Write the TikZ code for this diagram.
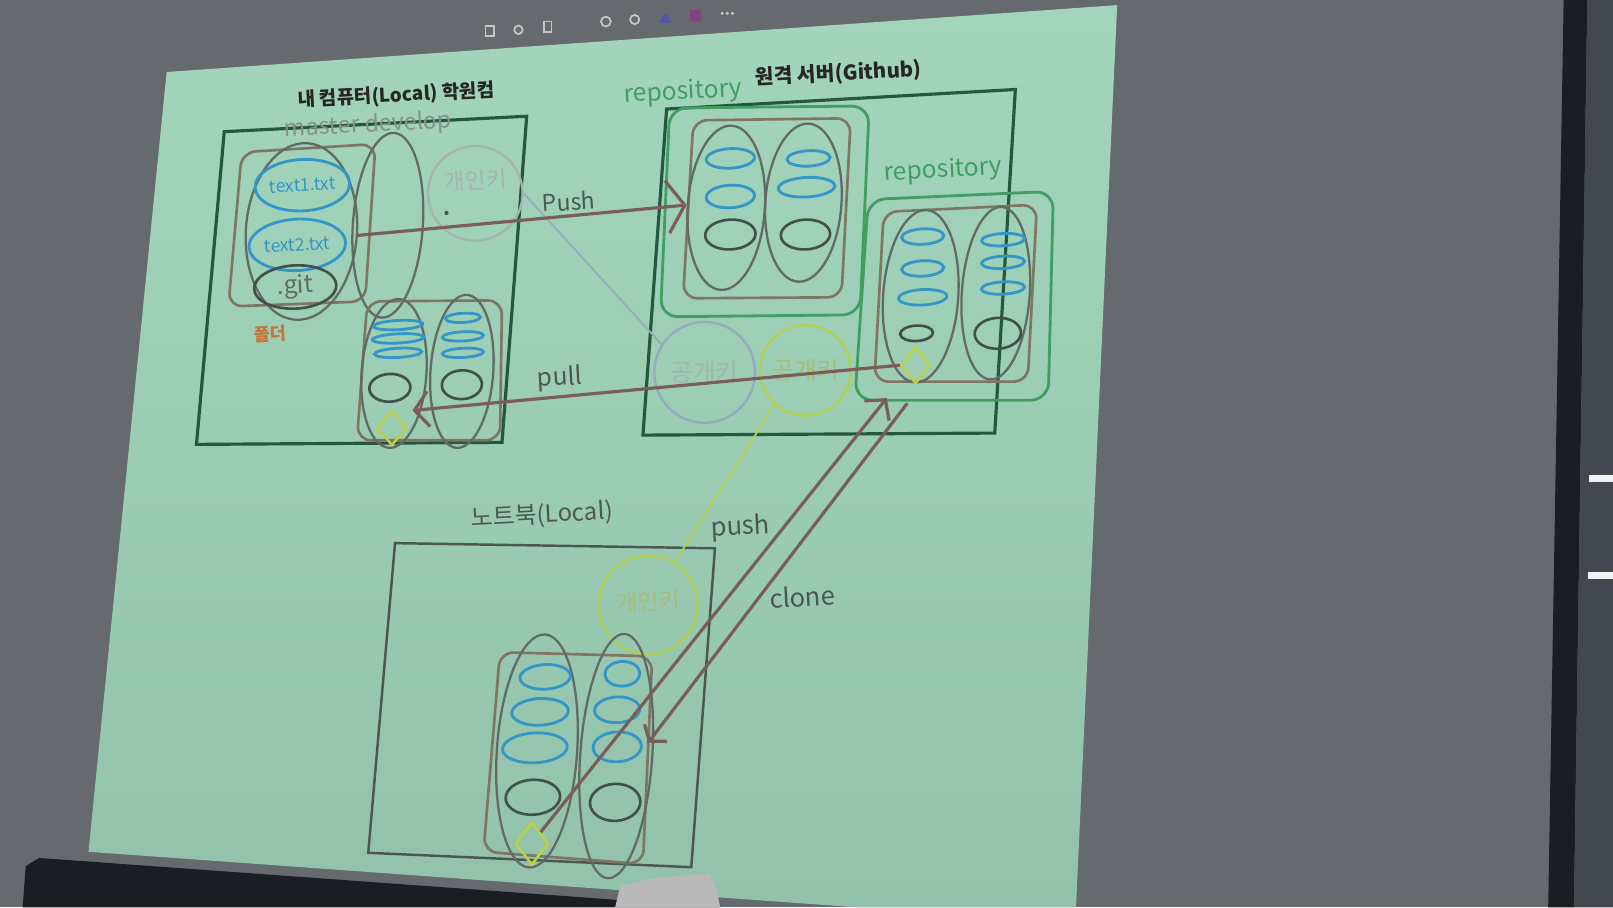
\documentclass[tikz,border=0pt]{standalone}
\usepackage{fontspec}
\setmainfont{Noto Sans CJK KR}
\usetikzlibrary{arrows.meta, positioning, shapes.geometric}
\usepackage{xcolor}
\definecolor{wallgray}{RGB}{102,105,110}
\definecolor{panelgray}{RGB}{66,72,77}
\definecolor{bezel}{RGB}{26,29,33}
\definecolor{slidetop}{RGB}{163,213,188}
\definecolor{slidebot}{RGB}{146,194,171}
\definecolor{framegreen}{RGB}{36,88,62}
\definecolor{repogreen}{RGB}{66,158,96}
\definecolor{brownline}{RGB}{128,116,98}
\definecolor{grayline}{RGB}{98,106,102}
\definecolor{darkline}{RGB}{66,80,76}
\definecolor{fileblue}{RGB}{52,150,198}
\definecolor{headyellow}{RGB}{190,208,72}
\definecolor{keygray}{RGB}{165,180,176}
\definecolor{keyblue}{RGB}{150,172,190}
\definecolor{keylime}{RGB}{178,208,80}
\definecolor{keylimetxt}{RGB}{168,190,120}
\definecolor{arrowred}{RGB}{122,92,88}
\definecolor{folderorange}{RGB}{196,118,58}
\definecolor{labelgray}{RGB}{76,86,82}

\newcommand{\pxl}{0.2927pt}
\newcommand{\setfs}[1]{\fontsize{#1}{#1}\selectfont}

\tikzset{
  frame/.style={draw=framegreen, line width=0.9pt},
  repobox/.style={draw=repogreen, line width=0.8pt, rounded corners=5pt},
  workbox/.style={draw=brownline, line width=0.75pt, rounded corners=4pt},
  sz/.style 2 args={minimum width=#1*\pxl, minimum height=#2*\pxl},
  branch/.style={ellipse, draw=grayline, line width=0.65pt, inner sep=0pt, rotate=-4},
  blob/.style={ellipse, draw=fileblue, line width=0.8pt, inner sep=0pt, rotate=3},
  commit/.style={ellipse, draw=darkline, line width=0.75pt, inner sep=0pt, rotate=3},
  headmark/.style={diamond, draw=headyellow, line width=0.7pt, inner sep=0pt},
  keyring/.style={circle, line width=0.65pt, inner sep=0pt},
  flow/.style={draw=arrowred, line width=0.9pt},
  lbl/.style={inner sep=0pt, rotate=3, text=labelgray},
}

\begin{document}
\begin{tikzpicture}[x=0.2927pt, y=-0.2927pt]
  \useasboundingbox (0,0) rectangle (1568,882);
  % room, screen edge and slide
  \fill[wallgray] (0,0) rectangle (1568,882);
  \fill[bezel] (1520,0) -- (1543,0) -- (1530,882) -- (1505,882) -- cycle;
  \fill[panelgray] (1543,0) -- (1568,0) -- (1568,882) -- (1530,882) -- cycle;
  \fill[white!90!gray] (1545,462) rectangle (1568,469);
  \fill[white!90!gray] (1544,556) rectangle (1568,563);
  \shade[top color=slidetop, bottom color=slidebot] (162,70) -- (1086,5) -- (1046,882) -- (833,882) -- (86,828) -- cycle;
  \fill[bezel] (22,882) -- (25,842) -- (38,834) -- (700,882) -- cycle;
  \fill[gray!55] (598,882) -- (603,861) -- (640,853) -- (690,849) -- (697,866) -- (700,882) -- cycle;
  % toolbar
  \draw[gray!45, line width=0.5pt] (472,25) rectangle (480,35);
  \draw[gray!45, line width=0.5pt] (504,29) circle (1.2pt);
  \draw[gray!45, line width=0.5pt] (529,21) rectangle (536,31);
  \draw[gray!45, line width=0.5pt] (589,21) circle (1.4pt);
  \draw[gray!45, line width=0.5pt] (617,19) circle (1.3pt);
  \fill[blue!35!gray] (641,22) -- (647,12) -- (653,22) -- cycle;
  \fill[violet!45!gray] (671,10) rectangle (681,20);
  \foreach \dx in {702,707,712} \fill[gray!45] (\dx,13) circle (0.5pt);

  % my computer
  \draw[frame] (218,128) -- (512,113) -- (488,430) -- (191,432) -- cycle;
  \node[lbl, font=\bfseries\setfs{5.4pt}, text=black!85] (pcTitle) at (385,93) {내 컴퓨터(Local) 학원컴};
  \node[lbl, font=\setfs{6.6pt}, text=grayline!75] (branchNames) at (358,122) {master develop};
  \draw[workbox] (235,148) -- (365,140) -- (355,293) -- (222,298) -- cycle;
  \node[branch, sz={108}{172}] (master) at (293,225) {};
  \node[branch, sz={68}{180}] (develop) at (377,219) {};
  \node[blob, sz={92}{50}, text=fileblue, font=\setfs{5pt}] (txtA) at (294,180) {text1.txt};
  \node[blob, sz={94}{50}, text=fileblue, font=\setfs{5pt}] (txtB) at (289,238) {text2.txt};
  \node[commit, sz={80}{42}, text=grayline, font=\setfs{6.9pt}] (gitDir) at (287,279) {.git};
  \node[lbl, font=\bfseries\setfs{5pt}, text=folderorange] (folderTag) at (263,325) {폴더};
  \node[keyring, draw=keygray, minimum size=92*\pxl] (privA) at (462,188) {};
  \node[lbl, font=\setfs{6.5pt}, text=keygray] (privAtxt) at (462,175) {개인키};
  \fill[labelgray] (434,207) circle (0.6pt);
  \draw[workbox] (357,293) -- (488,292) -- (486,428) -- (347,428) -- cycle;
  \node[branch, sz={63}{145}] (pcMaster) at (383,363) {};
  \node[branch, sz={61}{149}] (pcDevelop) at (449,361) {};
  \foreach \yy/\ww in {316/48,329/50,343/46}
    \node[blob, sz={\ww}{9}] (pcA\yy) at (387,\yy) {};
  \foreach \yy/\ww in {309/34,327/40,343/40}
    \node[blob, sz={\ww}{9}] (pcB\yy) at (450,\yy) {};
  \node[commit, sz={40}{27}] (pcA) at (379,377) {};
  \node[commit, sz={39}{28}] (pcB) at (449,374) {};
  \node[headmark, sz={29}{34}] (headA) at (381,416) {};

  % github
  \draw[frame] (648,106) -- (987,87) -- (967,421) -- (625,423) -- cycle;
  \node[lbl, font=\bfseries\setfs{5.8pt}, text=black!85] (hubTitle) at (815,72) {원격 서버(Github)};
  \node[lbl, font=\setfs{7pt}, text=repogreen] (repoTagA) at (664,90) {repository};
  \node[lbl, font=\setfs{7pt}, text=repogreen] (repoTagB) at (917,166) {repository};
  \draw[repobox] (651,105) -- (845,103) -- (836,306) -- (642,308) -- cycle;
  \draw[workbox] (674,117) -- (827,115) -- (818,289) -- (664,290) -- cycle;
  \node[branch, sz={75}{160}] (hubA) at (706,202) {};
  \node[branch, sz={74}{154}] (hubB) at (781,197) {};
  \node[blob, sz={47}{19}] (hubA1) at (710,154) {};
  \node[blob, sz={47}{22}] (hubA2) at (710,191) {};
  \node[commit, sz={49}{29}] (hubA3) at (710,228) {};
  \node[blob, sz={42}{15}] (hubB1) at (786,154) {};
  \node[blob, sz={55}{19}] (hubB2) at (784,182) {};
  \node[commit, sz={48}{29}] (hubB3) at (783,228) {};
  \draw[repobox] (844,194) -- (1024,186) -- (1019,389) -- (831,389) -- cycle;
  \draw[workbox] (859,206) -- (1008,199) -- (999,371) -- (850,371) -- cycle;
  \node[branch, sz={73}{168}] (forkA) at (895,288) {};
  \node[branch, sz={66}{168}] (forkB) at (968,285) {};
  \foreach \yy/\ww in {230/41,261/41,289/47}
    \node[blob, sz={\ww}{15}] (forkA\yy) at (897,\yy) {};
  \foreach \yy in {233,255,280}
    \node[blob, sz={42}{12}] (forkB\yy) at (975,\yy) {};
  \node[commit, sz={32}{15}] (forkAc) at (891,324) {};
  \node[commit, sz={45}{30}] (forkBc) at (970,324) {};
  \node[headmark, sz={28}{36}] (headB) at (890,355) {};
  \node[keyring, draw=keyblue, minimum size=98*\pxl, text=keygray, font=\setfs{7pt}] (pubA) at (685,362) {공개키};
  \node[keyring, draw=keylime, minimum size=88*\pxl, text=keylimetxt, font=\setfs{7pt}] (pubB) at (783,360) {공개키};

  % notebook
  \node[lbl, font=\setfs{6.8pt}] (nbTitle) at (527,501) {노트북(Local)};
  \draw[draw=labelgray, line width=0.7pt] (384,528) -- (695,533) -- (672,843) -- (358,829) -- cycle;
  \node[keyring, draw=keylime, minimum size=96*\pxl] (privB) at (630,588) {};
  \node[lbl, font=\setfs{6.5pt}, text=keylimetxt] (privBtxt) at (630,585) {개인키};
  \draw[workbox] (486,634) -- (634,638) -- (625,840) -- (470,828) -- cycle;
  \node[branch, sz={78}{227}] (nbA) at (522,730) {};
  \node[branch, sz={70}{238}] (nbB) at (599,735) {};
  \node[blob, sz={49}{24}] (nbA1) at (530,658) {};
  \node[blob, sz={55}{26}] (nbA2) at (525,692) {};
  \node[blob, sz={63}{29}] (nbA3) at (520,727) {};
  \node[commit, sz={53}{34}] (nbA4) at (518,775) {};
  \node[blob, sz={34}{24}] (nbB1) at (605,655) {};
  \node[blob, sz={44}{25}] (nbB2) at (600,690) {};
  \node[blob, sz={47}{29}] (nbB3) at (600,726) {};
  \node[commit, sz={49}{36}] (nbB4) at (598,780) {};
  \node[headmark, sz={32}{42}] (headC) at (517,820) {};

  % key links
  \draw[keyblue, line width=0.5pt] (privA.east) -- (pubA.147);
  \draw[keylime, line width=0.5pt] (pubB.228) -- (privB.58);

  % push / pull / clone
  \coordinate (pullEnd) at (401,399);
  \coordinate (pushEnd) at (862,387);
  \coordinate (cloneStart) at (882,392);
  \coordinate (cloneEnd) at (630,722);
  \draw[flow, -{Straight Barb[length=5pt,width=15pt]}] (master.east) -- (hubA.west);
  \node[lbl, font=\setfs{6.5pt}] (pushTag) at (553,196) {Push};
  \draw[flow, -{Straight Barb[length=4pt,width=10pt]}] (headB.west) -- (pullEnd);
  \node[lbl, font=\setfs{7pt}] (pullTag) at (544,368) {pull};
  \draw[flow, -{Straight Barb[length=4pt,width=9pt]}] (headC.north east) -- (pushEnd);
  \node[lbl, font=\setfs{7.3pt}] (pushTagB) at (720,513) {push};
  \draw[flow, -{Straight Barb[length=3pt,width=8pt]}] (cloneStart) -- (cloneEnd);
  \node[lbl, font=\setfs{7.3pt}] (cloneTag) at (780,580) {clone};
\end{tikzpicture}
\end{document}
